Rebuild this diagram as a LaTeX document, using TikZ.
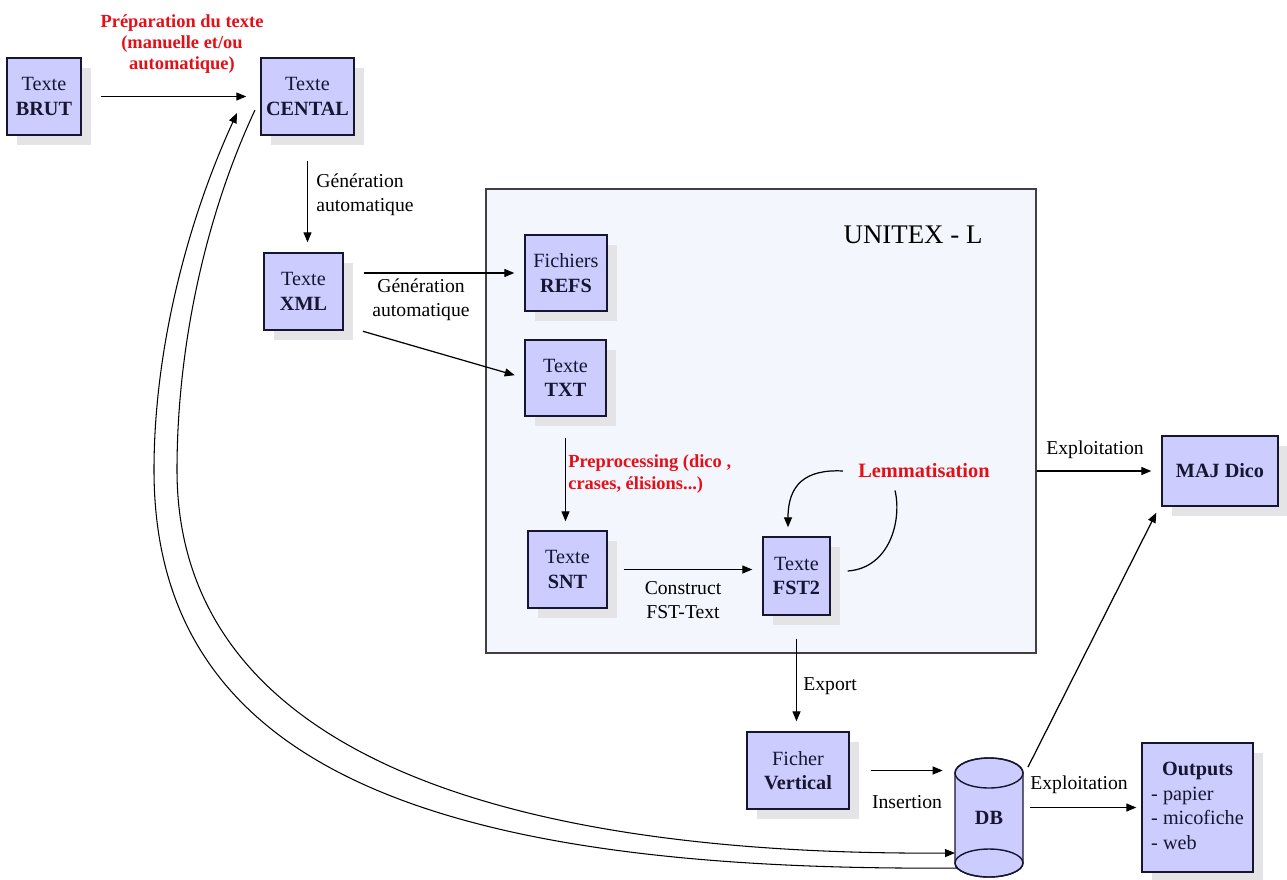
\documentclass[tikz,border=0pt]{standalone}
\usepackage{fontspec}
\setmainfont{Liberation Serif}
\usetikzlibrary{arrows.meta,shadows}

\definecolor{boxblue}{RGB}{204,204,255}
\definecolor{framefill}{RGB}{244,246,253}
\definecolor{shadowgray}{RGB}{228,228,230}
\definecolor{labelred}{RGB}{228,16,24}
\definecolor{inkblue}{RGB}{22,22,48}

\tikzset{
  fichier/.style={draw=inkblue, fill=boxblue, line width=0.8pt, inner sep=0pt,
    align=center, text=inkblue, font=\fontsize{11.5}{14}\selectfont,
    drop shadow={shadow xshift=0.2cm, shadow yshift=-0.2cm, fill=shadowgray, opacity=1}},
  fleche/.style={-{Triangle[length=0.2cm, width=0.16cm]}, line width=0.7pt},
  etiquette/.style={font=\fontsize{11.2}{13.6}\selectfont, align=center, inner sep=0pt},
  rouge/.style={font=\fontsize{10.5}{12.2}\selectfont\bfseries, text=labelred,
    align=center, inner sep=0pt},
}

\begin{document}
\begin{tikzpicture}[x=0.02cm, y=0.02cm]
	\useasboundingbox (0,0) rectangle (1287,-879);

	% Draw the UNITEX frame
	\node[draw=black!75, fill=framefill, line width=0.8pt, inner sep=0pt,
		minimum width=11cm, minimum height=9.28cm] (unitex) at (761,-421) {};
	\node[font=\fontsize{15.3}{18}\selectfont] (titre) at (913,-235) {UNITEX - L};

	% Draw the files
	\node[fichier, minimum width=1.48cm, minimum height=1.54cm] (brut) at (44,-96.5) {Texte\\\textbf{BRUT}};
	\node[fichier, minimum width=1.86cm, minimum height=1.54cm] (cental) at (307.5,-96.5) {Texte\\\textbf{CENTAL}};
	\node[fichier, minimum width=1.58cm, minimum height=1.54cm] (xml) at (303.5,-291.5) {Texte\\\textbf{XML}};
	\node[fichier, minimum width=1.64cm, minimum height=1.52cm] (refs) at (566,-273) {Fichiers\\\textbf{REFS}};
	\node[fichier, minimum width=1.62cm, minimum height=1.52cm] (txt) at (565.5,-378) {Texte\\\textbf{TXT}};
	\node[fichier, minimum width=1.58cm, minimum height=1.54cm] (snt) at (567.5,-569.5) {Texte\\\textbf{SNT}};
	\node[fichier, minimum width=1.34cm, minimum height=1.56cm] (fst2) at (796.5,-576) {Texte\\\textbf{FST2}};
	\node[fichier, minimum width=2.04cm, minimum height=1.54cm] (vertical) at (798,-770.5) {Ficher\\\textbf{Vertical}};
	\node[fichier, minimum width=2.32cm, minimum height=1.4cm] (majdico) at (1220,-471) {\textbf{MAJ Dico}};
	\node[fichier, minimum width=2.22cm, minimum height=2.58cm] (outputs) at (1197.5,-807.5)
		{\begin{tabular}{@{}l@{}}\multicolumn{1}{@{}c@{}}{\textbf{Outputs}}\\- papier\\- micofiche\\- web\end{tabular}};

	% Draw the database
	\filldraw[draw=inkblue, fill=boxblue, line width=0.8pt] (955,-773) -- (955,-863)
		arc[start angle=180, end angle=360, x radius=0.68cm, y radius=0.28cm] -- (1023,-773)
		arc[start angle=0, end angle=180, x radius=0.68cm, y radius=0.3cm] -- cycle;
	\draw[draw=inkblue, line width=0.8pt] (989,-773) ellipse[x radius=0.68cm, y radius=0.3cm];
	\draw[draw=inkblue, line width=0.8pt] (989,-863) ellipse[x radius=0.68cm, y radius=0.28cm];
	\node[inner sep=0pt, minimum width=1.36cm, minimum height=1.8cm, text=inkblue,
		font=\fontsize{11.5}{14}\selectfont\bfseries] (db) at (989,-818) {DB};

	% Draw the arrows
	\draw[fleche, shorten <=0.38cm, shorten >=0.28cm] (brut) -- (cental);
	\node[rouge] (prep) at (182,-44) {Préparation du texte\\(manuelle et/ou\\automatique)};

	\draw[fleche, shorten <=0.5cm, shorten >=0.2cm] (cental.south) -- (cental.south |- xml.north);
	\node[etiquette, anchor=west, align=left] (gen1) at (316,-195) {Génération\\automatique};

	\draw[fleche, shorten <=0.4cm, shorten >=0.2cm] (xml.east |- refs.west) -- (refs.west);
	\node[etiquette] (gen2) at (421,-300) {Génération\\automatique};
	\draw[fleche, shorten <=0.4cm, shorten >=0.2cm] ([yshift=0.1cm]xml.south east) -- (txt.west);

	\draw[fleche, shorten <=0.42cm, shorten >=0.18cm] (txt.south) -- (txt.south |- snt.north);
	\node[rouge, anchor=west, align=left] (prepro) at (568,-474) {Preprocessing (dico ,\\crases, élisions...)};

	\draw[fleche, shorten <=0.32cm, shorten >=0.2cm] (snt.east) -- (snt.east -| fst2.west);
	\node[etiquette] (construct) at (683,-600) {Construct\\FST-Text};

	% Lemmatisation loop
	\node[rouge, font=\fontsize{11.6}{14}\selectfont\bfseries] (lemma) at (924,-471) {Lemmatisation};
	\draw[fleche] ([xshift=-0.3cm]lemma.west) .. controls (805,-469) and (788,-485) .. ([xshift=-0.17cm, yshift=0.18cm]fst2.north);
	\draw[line width=0.7pt] ([xshift=0.34cm, yshift=0.1cm]fst2.east) .. controls (890,-568) and (902,-520) .. ([xshift=-0.58cm, yshift=-0.24cm]lemma.south);

	\draw[fleche, shorten <=0.46cm, shorten >=0.2cm] (fst2.south) -- (fst2.south |- vertical.north);
	\node[etiquette, anchor=west] (export) at (803,-686) {Export};

	\draw[fleche, shorten <=0.42cm, shorten >=0.24cm] (vertical.east) -- (vertical.east -| db.west);
	\node[etiquette] (insert) at (907,-802) {Insertion};

	\draw[fleche, shorten <=0.14cm, shorten >=0.1cm] (db.east |- outputs.west) -- (outputs.west);
	\node[etiquette] (exploit1) at (1079,-785) {Exploitation};

	\draw[fleche, shorten >=0.2cm] (unitex.east |- majdico.west) -- (majdico.west);
	\node[etiquette] (exploit2) at (1095,-450) {Exploitation};

	\coordinate (dbhaut) at (1028,-767);
	\draw[fleche] (dbhaut) -- ([xshift=-0.1cm, yshift=-0.12cm]majdico.south west);

	% The two long curves between DB and CENTAL
	\coordinate (retour) at (957,-868);
	\coordinate (arrivee) at (237,-113);
	\coordinate (depart) at (255,-110);
	\coordinate (entree) at (955,-853);
	\draw[fleche, line width=0.6pt] (retour) .. controls (437,-872) and (154,-770) .. (154,-470)
		.. controls (154,-350) and (187,-222) .. (arrivee);
	\draw[fleche, line width=0.6pt] (depart) .. controls (204,-219) and (177,-350) .. (177,-470)
		.. controls (177,-740) and (475,-856) .. (entree);

\end{tikzpicture}
\end{document}
